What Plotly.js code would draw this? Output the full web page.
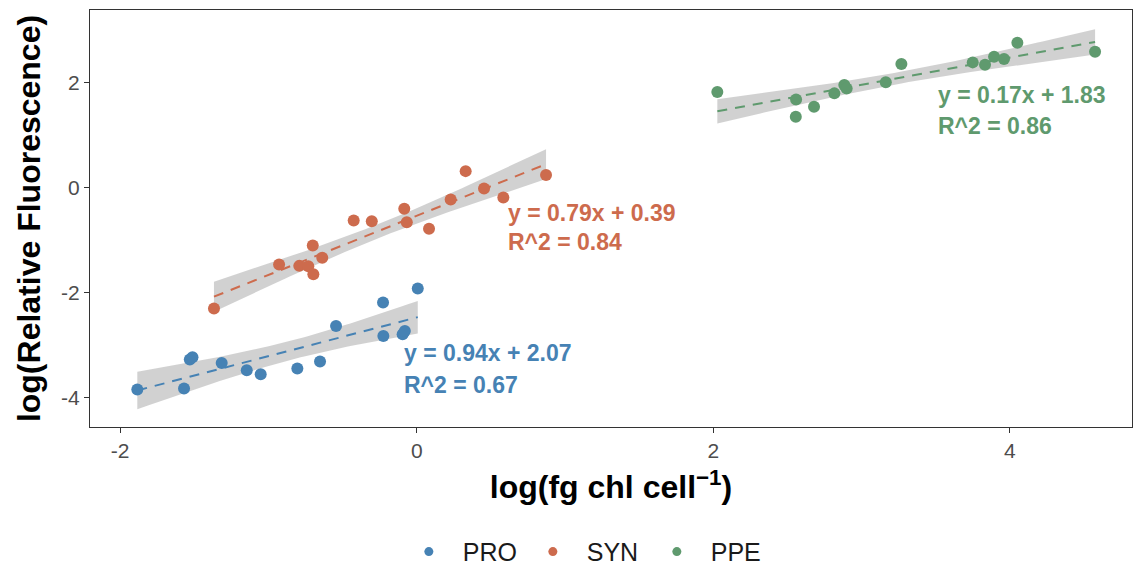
<!DOCTYPE html>
<html>
<head>
<meta charset="utf-8">
<script src="https://cdn.plot.ly/plotly-3.0.1.min.js"></script>
<style>html,body{margin:0;padding:0;background:#fff;}#chart{width:1133px;height:566px;}</style>
</head>
<body>
<div id="chart"></div>
<script>
// ---- data ----
const groups = ["PRO", "SYN", "PPE"];
const colors = ["#4682B4", "#CD6B4D", "#5F9A6E"];

const proX = [-1.884, -1.569, -1.530, -1.512, -1.315, -1.146, -1.052, -0.805, -0.652, -0.544, -0.227, -0.225, -0.095, -0.080, 0.007];
const proY = [-3.855, -3.836, -3.282, -3.240, -3.347, -3.487, -3.563, -3.454, -3.321, -2.641, -2.195, -2.832, -2.800, -2.740, -1.928];

const synX = [-1.367, -0.928, -0.792, -0.731, -0.697, -0.701, -0.637, -0.425, -0.303, -0.084, -0.067, 0.083, 0.229, 0.330, 0.454, 0.584, 0.872];
const synY = [-2.309, -1.470, -1.496, -1.502, -1.655, -1.107, -1.343, -0.630, -0.643, -0.408, -0.662, -0.790, -0.229, 0.311, -0.019, -0.191, 0.235];

const ppeX = [2.027, 2.558, 2.556, 2.679, 2.816, 2.883, 2.899, 3.163, 3.268, 3.749, 3.832, 3.893, 3.960, 4.050, 4.574];
const ppeY = [1.819, 1.679, 1.347, 1.538, 1.794, 1.952, 1.889, 2.004, 2.353, 2.385, 2.340, 2.492, 2.448, 2.760, 2.588];

const eqLabels = ["y = 0.94x + 2.07", "y = 0.79x + 0.39", "y = 0.17x + 1.83"];
const r2Labels = ["R^2 = 0.67", "R^2 = 0.84", "R^2 = 0.86"];

const xTickVals = [-2, 0, 2, 4];
const xTickText = ["-2", "0", "2", "4"];
const yTickVals = [-4, -2, 0, 2];
const yTickText = ["-4", "-2", "0", "2"];

// ---- linear fit with 95% confidence band (like geom_smooth(method = "lm")) ----
function tQuant(nu) {
  const z = 1.959964;
  return z + (z**3 + z) / (4*nu) + (5*z**5 + 16*z**3 + 3*z) / (96*nu*nu)
           + (3*z**7 + 19*z**5 + 17*z**3 - 15*z) / (384*nu**3);
}
function lmFit(xs, ys) {
  const n = xs.length;
  const mx = xs.reduce((a,b)=>a+b,0)/n, my = ys.reduce((a,b)=>a+b,0)/n;
  let sxx = 0, sxy = 0;
  for (let i=0;i<n;i++){ sxx += (xs[i]-mx)**2; sxy += (xs[i]-mx)*(ys[i]-my); }
  const b = sxy/sxx, a = my - b*mx;
  let sse = 0;
  for (let i=0;i<n;i++){ sse += (ys[i]-a-b*xs[i])**2; }
  const s = Math.sqrt(sse/(n-2));
  const t = tQuant(n-2);
  const lo = Math.min(...xs), hi = Math.max(...xs);
  const gx = [], fy = [], up = [], dn = [];
  const N = 80;
  for (let k=0;k<N;k++){
    const x = lo + (hi-lo)*k/(N-1);
    const y = a + b*x;
    const se = s*Math.sqrt(1/n + (x-mx)**2/sxx);
    gx.push(x); fy.push(y); up.push(y + t*se); dn.push(y - t*se);
  }
  return {gx, fy, up, dn};
}

const FONT = "Liberation Sans, Arial, sans-serif";
const allX = [proX, synX, ppeX], allY = [proY, synY, ppeY];
const traces = [];
// bands
allX.forEach((xs, i) => {
  const f = lmFit(xs, allY[i]);
  traces.push({
    x: f.gx.concat(f.gx.slice().reverse()),
    y: f.up.concat(f.dn.slice().reverse()),
    type: "scatter", mode: "lines", fill: "toself",
    fillcolor: "rgba(153,153,153,0.45)", line: {width: 0},
    hoverinfo: "skip", showlegend: false
  });
});
// fit lines
allX.forEach((xs, i) => {
  const f = lmFit(xs, allY[i]);
  traces.push({
    x: f.gx, y: f.fy, type: "scatter", mode: "lines",
    line: {color: colors[i], width: 2, dash: "10px,8px"},
    hoverinfo: "skip", showlegend: false
  });
});
// points
allX.forEach((xs, i) => {
  traces.push({
    x: xs, y: allY[i], type: "scatter", mode: "markers", name: groups[i],
    marker: {color: colors[i], size: 12}, showlegend: false
  });
});
// legend entries
groups.forEach((g, i) => {
  traces.push({
    x: [null], y: [null], type: "scatter", mode: "markers",
    name: "\u00a0\u00a0" + g, marker: {color: colors[i], size: 9}, showlegend: true
  });
});

const annPos = [
  {x: -0.1, y1: -3.15, y2: -3.77},
  {x: 0.6, y1: -0.48, y2: -1.05},
  {x: 3.5, y1: 1.76, y2: 1.17}
];
const annotations = [];
annPos.forEach((p, i) => {
  [[eqLabels[i], p.y1], [r2Labels[i], p.y2]].forEach(([txt, yy]) => {
    annotations.push({
      x: p.x, y: yy, xref: "x", yref: "y", text: txt, showarrow: false,
      xanchor: "left", yanchor: "middle",
      font: {family: FONT, size: 23, color: colors[i], weight: "bold"}
    });
  });
});

const axisCommon = {
  showgrid: false, zeroline: false, showline: true, mirror: true,
  linecolor: "#333333", linewidth: 1, automargin: false,
  ticks: "outside", ticklen: 5, tickcolor: "#333333", tickwidth: 1,
  tickfont: {family: FONT, size: 21, color: "#4d4d4d"}
};

const layout = {
  width: 1133, height: 566,
  margin: {l: 90, r: 1, t: 10, b: 139},
  paper_bgcolor: "#ffffff", plot_bgcolor: "#ffffff",
  font: {family: FONT},
  xaxis: Object.assign({}, axisCommon, {
    range: [-2.203, 4.823], tickvals: xTickVals, ticktext: xTickText,
    title: {text: "log(fg chl cell<sup>\u22121</sup>)", standoff: 14,
            font: {family: FONT, size: 32, color: "#000000", weight: "bold"}}
  }),
  yaxis: Object.assign({}, axisCommon, {
    range: [-4.569, 3.384], tickvals: yTickVals, ticktext: yTickText,
    title: {text: "log(Relative Fluorescence)", standoff: 10,
            font: {family: FONT, size: 32, color: "#000000", weight: "bold"}}
  }),
  showlegend: true,
  legend: {
    orientation: "h", xref: "paper", x: 0.4845, xanchor: "center",
    yref: "container", y: 0.025, yanchor: "middle",
    font: {family: FONT, size: 25, color: "#1a1a1a"},
    entrywidth: 79, entrywidthmode: "pixels",
    bgcolor: "rgba(0,0,0,0)"
  },
  annotations: annotations
};

Plotly.newPlot("chart", traces, layout, {displayModeBar: false, staticPlot: true});
</script>
</body>
</html>
